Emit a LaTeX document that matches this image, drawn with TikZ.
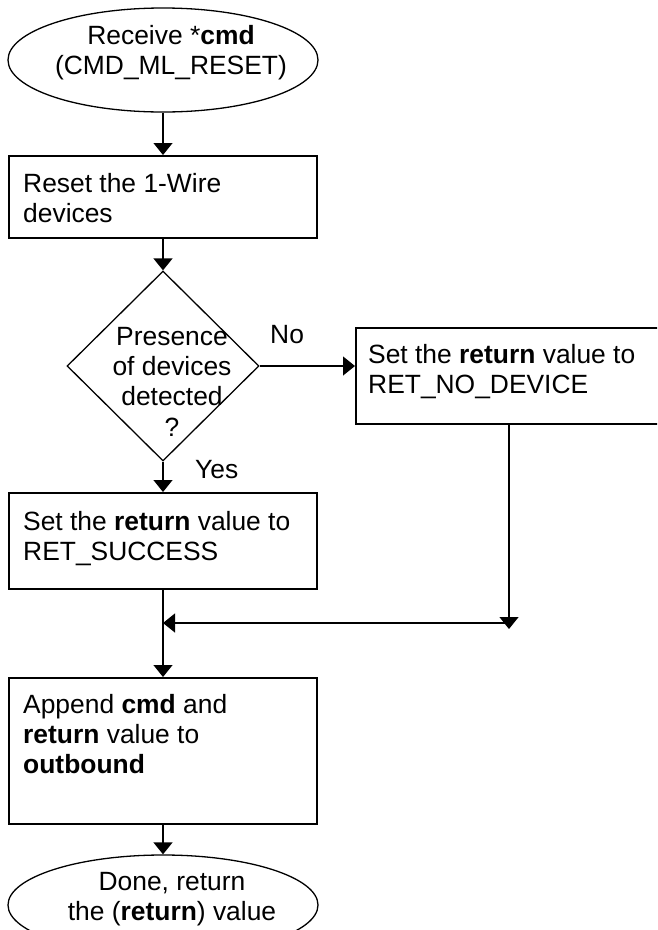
\documentclass[tikz,border=0pt]{standalone}
\usepackage{fontspec}
\setmainfont{Liberation Sans}
\usetikzlibrary{shapes.geometric,arrows.meta}
% stacked lines of text, baseline on the first line
\newcommand{\txtlines}[2][l]{\begin{tabular}[t]{@{}#1@{}}#2\end{tabular}}
\tikzset{
  every node/.style={font=\fontsize{26.4}{30.4}\selectfont},
  procbox/.style={draw, line width=2pt, rectangle, inner sep=0pt},
  terminal/.style={draw, line width=1.3pt, ellipse, inner sep=0pt},
  decision/.style={draw, line width=1.3pt, diamond, inner sep=0pt},
  label/.style={inner sep=0pt, anchor=base west},
  clabel/.style={inner sep=0pt, anchor=base},
  flow/.style={line width=1.3pt, -{Triangle[width=19pt,length=12pt]}},
}
\begin{document}
\begin{tikzpicture}[x=1pt,y=-1pt]
\useasboundingbox (0,0) rectangle (657,930);
\clip (0,0) rectangle (657,930);

% start terminal
\node[terminal, minimum width=310pt, minimum height=104pt] (start) at (163,60) {};
\node[clabel] at (171,44) {\txtlines[c]{Receive *\textbf{cmd}\\(CMD\_ML\_RESET)}};

% reset step
\node[procbox, minimum width=308pt, minimum height=82pt] (reset) at (163,197) {};
\node[label] at (23,192) {\txtlines{Reset the 1-Wire\\devices}};

% presence check
\node[decision, minimum width=192pt, minimum height=190pt] (check) at (163,366) {};
\node[clabel] at (172,345) {\txtlines[c]{Presence\\of devices\\detected\\?}};

% no-device branch
\node[procbox, minimum width=320pt, minimum height=96pt, anchor=north west] (nodev) at (355,327) {};
\node[label] at (368,363) {\txtlines{Set the \textbf{return} value to\\RET\_NO\_DEVICE}};

% success branch
\node[procbox, minimum width=308pt, minimum height=96pt] (succ) at (163,541) {};
\node[label] at (23,530) {\txtlines{Set the \textbf{return} value to\\RET\_SUCCESS}};

% append result
\node[procbox, minimum width=308pt, minimum height=146pt] (append) at (163,751) {};
\node[label] at (23,713) {\txtlines{Append \textbf{cmd} and\\\textbf{return} value to\\\textbf{outbound}}};

% end terminal
\node[terminal, minimum width=310pt, minimum height=100pt] (done) at (163,905) {};
\node[clabel] at (172,890) {\txtlines[c]{Done, return\\the (\textbf{return}) value}};

% branch labels
\node[label] at (270,343) {No};
\node[label] at (195,478) {Yes};

% merge points
\coordinate (drop) at (509,629);
\coordinate (merge) at (163,623);

% connectors
\draw[flow] (start) -- (reset);
\draw[flow] (reset) -- (check.north);
\draw[flow] (check.east) -- (check.east -| nodev.west);
\draw[flow] (check.south) -- (succ);
\draw[flow] (nodev.south -| drop) -- (drop);
\draw[flow] (drop |- merge) -- (merge);
\draw[flow] (succ) -- (append);
\draw[flow] (append) -- (done);
\end{tikzpicture}
\end{document}
